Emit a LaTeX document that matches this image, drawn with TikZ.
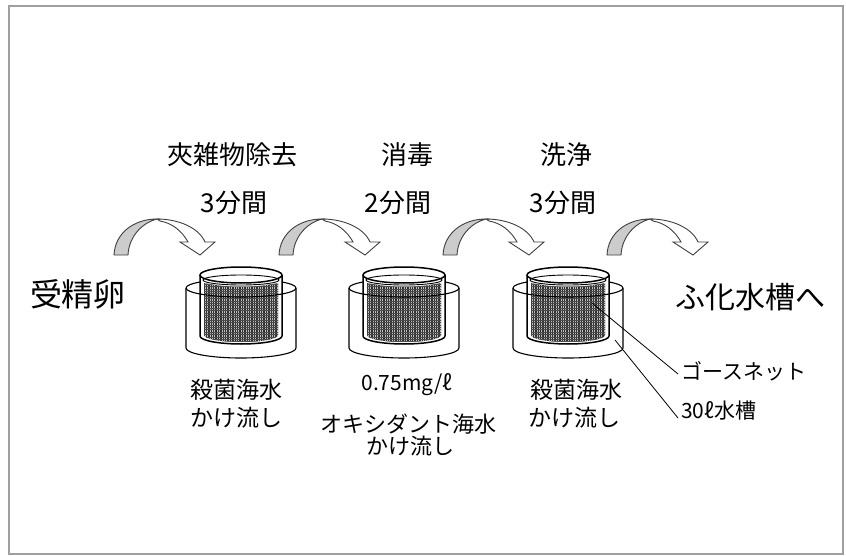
\documentclass[tikz,border=0pt]{standalone}
\usepackage{fontspec}
\newfontfamily\jp{Noto Sans CJK JP}
\begin{document}
\begin{tikzpicture}[x=1pt,y=-1pt,
  txt/.style={font=\jp\fontsize{#1}{#1}\selectfont, inner sep=0pt, text=black},
  txt/.default=23,
  leader/.style={draw=black, line width=0.8},
  frame/.style={draw=gray!75, line width=2},
  flowarrow/.pic={
    % shaded rising part of the curved arrow
    \filldraw[fill=gray!40, draw=black!75, line width=0.9]
      (0,0) .. controls (1,-22) and (20,-36) .. (43,-36)
      .. controls (30,-33) and (15,-20) .. (14,0) -- cycle;
    % descending part with the head
    \filldraw[fill=white, draw=black!75, line width=0.9]
      (43,-36) .. controls (65,-36) and (85,-27) .. (91,-13)
      -- (101,-13) -- (86,0) -- (66,-13) -- (74,-13)
      .. controls (68,-24) and (58,-32) .. (46,-34) -- cycle;
  },
  tank/.pic={
    % back rim of the outer tank
    \draw[line width=1.1] (-55,13) arc[start angle=180,end angle=360,x radius=55,y radius=9];
    % body of the inner vessel
    \fill[white] (-41,0) -- (-41,61) arc[start angle=180,end angle=0,x radius=41,y radius=8]
      -- (41,0) arc[start angle=0,end angle=-180,x radius=41,y radius=8] -- cycle;
    % gauze net
    \fill[black!82] (-37,8) -- (-37,60) arc[start angle=180,end angle=0,x radius=37,y radius=7]
      -- (37,8) .. controls (15,13) and (-15,13) .. cycle;
    \begin{scope}
      \clip (-37,8) -- (-37,60) arc[start angle=180,end angle=0,x radius=37,y radius=7]
        -- (37,8) .. controls (15,13) and (-15,13) .. cycle;
      \foreach \i in {-36,-33.6,...,37} \draw[gray!50, line width=0.4] (\i,0) -- (\i,70);
      \foreach \j in {9,11.4,...,69} \draw[black!70, line width=0.3] (-40,\j) -- (40,\j);
    \end{scope}
    % inner vessel outline
    \draw[line width=1.5] (0,0) ellipse[x radius=41,y radius=8];
    \draw[line width=0.9] (0,5) ellipse[x radius=38,y radius=5];
    \draw[line width=1.5] (-41,0) -- (-41,61) arc[start angle=180,end angle=0,x radius=41,y radius=8] -- (41,0);
    % front rim, walls and base of the outer tank
    \draw[line width=1.1] (-55,13) arc[start angle=180,end angle=0,x radius=55,y radius=9];
    \draw[line width=1.1] (-55,13) -- (-55,73) arc[start angle=180,end angle=0,x radius=55,y radius=10] -- (55,13);
  }
]
\useasboundingbox (0,0) rectangle (846,556);
\fill[white] (0,0) rectangle (846,556);
\draw[frame] (9,6) rectangle (843,554);

% step titles and durations
\node[txt=26] (s1) at (232,155) {夾雑物除去};
\node[txt=26] (s2) at (407,155) {消毒};
\node[txt=26] (s3) at (566,155) {洗浄};
\node[txt=26] (d1) at (234,203) {3分間};
\node[txt=26] (d2) at (398,203) {2分間};
\node[txt=26] (d3) at (563,203) {3分間};

% start and end
\node[txt=32] (eggs) at (78,294) {受精卵};
\node[txt=30] (hatch) at (750,297) {ふ化水槽へ};

% curved transfer arrows
\pic (a1) at (114,255) {flowarrow};
\pic (a2) at (279,255) {flowarrow};
\pic (a3) at (443,255) {flowarrow};
\pic (a4) at (607,255) {flowarrow};

% tanks
\pic (t1) at (241,275) {tank};
\pic (t2) at (404,275) {tank};
\pic (t3) at (568,275) {tank};

% treatment labels
\node[txt=23] (w1a) at (236,390) {殺菌海水};
\node[txt=23] (w1b) at (236,418) {かけ流し};
\node[txt=21] (w2a) at (407,385) {0.75mg/ℓ};
\node[txt=22] (w2b) at (408,424) {オキシダント海水};
\node[txt=22] (w2c) at (410,446) {かけ流し};
\node[txt=23] (w3a) at (576,390) {殺菌海水};
\node[txt=23] (w3b) at (574,418) {かけ流し};

% part names
\node[txt=21, anchor=west] (gauze) at (681,371) {ゴースネット};
\node[txt=21, anchor=west] (vessel) at (681,411) {30ℓ水槽};
\coordinate (netpt) at (592,303);
\coordinate (tankpt) at (615,340);
\draw[leader] (netpt) -- ([xshift=-3pt,yshift=-3pt]gauze.west);
\draw[leader] (tankpt) -- ([xshift=-3pt,yshift=-7pt]vessel.west);
\end{tikzpicture}
\end{document}
